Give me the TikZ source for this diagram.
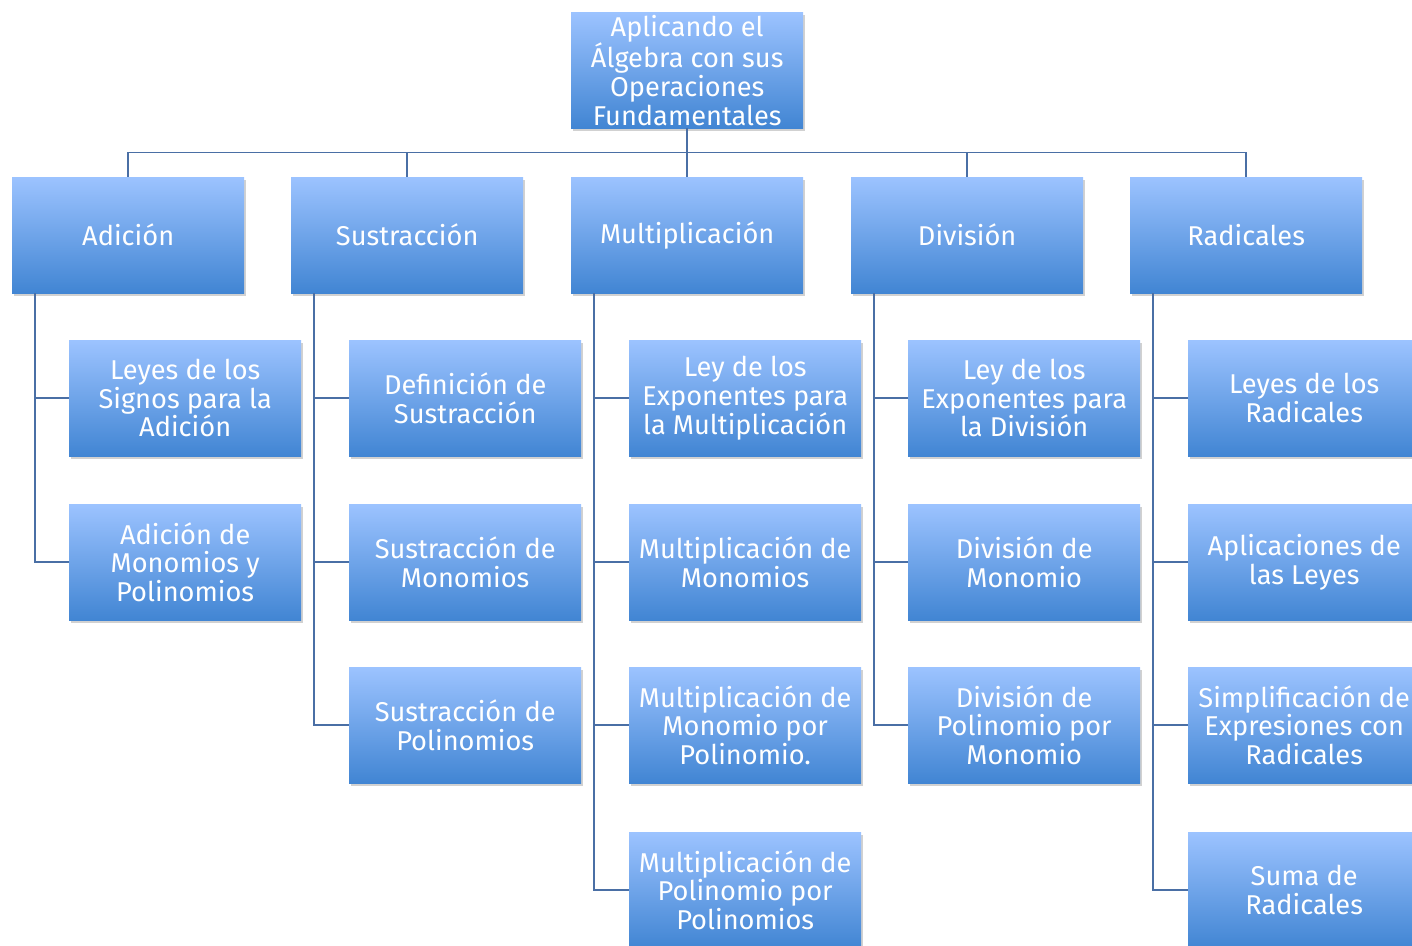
\documentclass[tikz,border=0pt]{standalone}
\usepackage{fontspec}
\setmainfont{Fira Sans}
\usetikzlibrary{shadows}
\definecolor{ctop}{HTML}{9CC3FF}
\definecolor{cbot}{HTML}{4185D3}
\definecolor{cline}{HTML}{4A6FA5}
\tikzset{
  box/.style={anchor=north west, top color=ctop, bottom color=cbot, draw=none,
    minimum width=232, minimum height=116, inner sep=0pt, align=center, text=white,
    font=\fontsize{27.2}{28.6}\selectfont,
    drop shadow={shadow xshift=2pt, shadow yshift=-3pt, opacity=0.3, fill=black!60}},
  conn/.style={draw=cline, line width=1.8pt}
}
\begin{document}
\begin{tikzpicture}[x=1pt,y=-1pt]
\useasboundingbox (0,0) rectangle (1412,945);
\node[box] (top) at (571,12) {Aplicando el\\Álgebra con sus\\Operaciones\\Fundamentales};
\node[box] (a) at (12,177) {Adición};
\node[box] (s) at (291,177) {Sustracción};
\node[box] (m) at (571,177) {Multiplicación};
\node[box] (d) at (851,177) {División};
\node[box] (r) at (1130,177) {Radicales};
% Adicion
\node[box] (a1) at (69,340) {Leyes de los\\Signos para la\\Adición};
\node[box] (a2) at (69,504) {Adición de\\Monomios y\\Polinomios};
% Sustraccion
\node[box] (s1) at (349,340) {Definición de\\Sustracción};
\node[box] (s2) at (349,504) {Sustracción de\\Monomios};
\node[box] (s3) at (349,667) {Sustracción de\\Polinomios};
% Multiplicacion
\node[box] (m1) at (629,340) {Ley de los\\Exponentes para\\la Multiplicación};
\node[box] (m2) at (629,504) {Multiplicación de\\Monomios};
\node[box] (m3) at (629,667) {Multiplicación de\\Monomio por\\Polinomio.};
\node[box] (m4) at (629,832) {Multiplicación de\\Polinomio por\\Polinomios};
% Division
\node[box] (d1) at (908,340) {Ley de los\\Exponentes para\\la División};
\node[box] (d2) at (908,504) {División de\\Monomio};
\node[box] (d3) at (908,667) {División de\\Polinomio por\\Monomio};
% Radicales
\node[box] (r1) at (1188,340) {Leyes de los\\Radicales};
\node[box] (r2) at (1188,504) {Aplicaciones de\\las Leyes};
\node[box] (r3) at (1188,667) {Simplificación de\\Expresiones con\\Radicales};
\node[box] (r4) at (1188,832) {Suma de\\Radicales};
% connectors
\foreach \n in {a,s,m,d,r}{\draw[conn] (top.south) -- ++(0,24) -| (\n.north);}
\foreach \p/\c in {a/a1,a/a2,s/s1,s/s2,s/s3,m/m1,m/m2,m/m3,m/m4,d/d1,d/d2,d/d3,r/r1,r/r2,r/r3,r/r4}{
  \draw[conn] ([xshift=23pt]\p.south west) |- (\c.west);}
\end{tikzpicture}
\end{document}
